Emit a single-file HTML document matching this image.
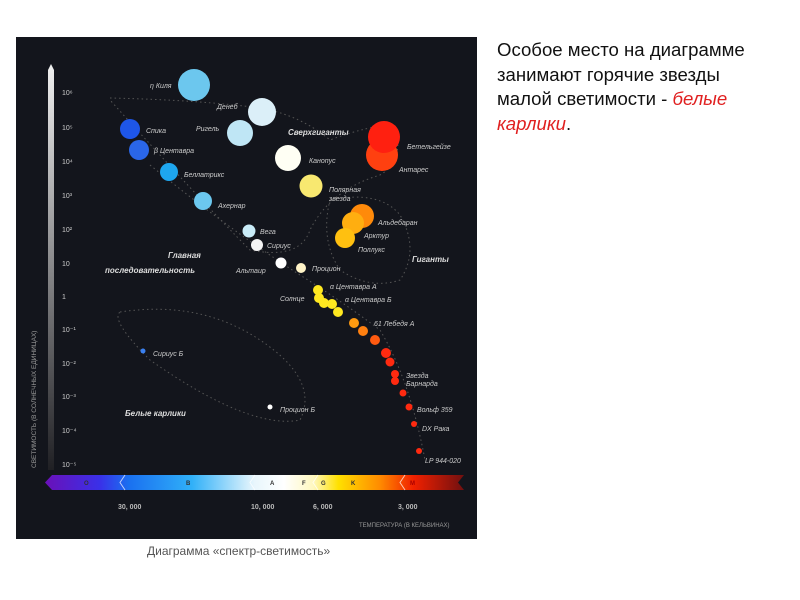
<!DOCTYPE html>
<html><head><meta charset="utf-8"><style>
body{margin:0;width:800px;height:600px;background:#fff;position:relative;overflow:hidden;font-family:"Liberation Sans",sans-serif}
.t{position:absolute;left:497px;top:38px;font-size:18.6px;line-height:24.5px;color:#111;width:270px}
.cap{position:absolute;left:147px;top:544px;font-size:12px;color:#555}
</style></head><body>
<svg width="800" height="600" style="position:absolute;left:0;top:0" font-family="Liberation Sans, sans-serif">
<defs>
<linearGradient id="sp" x1="0" x2="1">
<stop offset="0" stop-color="#6a10b8"/><stop offset="0.13" stop-color="#3a30e8"/><stop offset="0.2" stop-color="#1a70f0"/><stop offset="0.35" stop-color="#30b0f8"/><stop offset="0.5" stop-color="#e8f6fc"/><stop offset="0.57" stop-color="#ffffff"/><stop offset="0.64" stop-color="#fff8c0"/><stop offset="0.7" stop-color="#ffe000"/><stop offset="0.8" stop-color="#ff8a00"/><stop offset="0.88" stop-color="#f02000"/><stop offset="1" stop-color="#701010"/>
</linearGradient>
<linearGradient id="ax" x1="0" y1="0" x2="0" y2="1"><stop offset="0" stop-color="#f0f0f0"/><stop offset="1" stop-color="#202024"/></linearGradient>
</defs>
<rect x="16" y="37" width="461" height="502" fill="#13151c"/>
<path d="M48 70 L51 64 L54 70 L54 470 L48 470 Z" fill="url(#ax)"/>
<g fill="#ccc" font-size="7">
<text x="62" y="95">10⁶</text><text x="62" y="130">10⁵</text><text x="62" y="164">10⁴</text><text x="62" y="198">10³</text><text x="62" y="232">10²</text><text x="62" y="266">10</text><text x="62" y="299">1</text><text x="62" y="332">10⁻¹</text><text x="62" y="366">10⁻²</text><text x="62" y="399">10⁻³</text><text x="62" y="433">10⁻⁴</text><text x="62" y="467">10⁻⁵</text>
</g>
<text transform="translate(36,468) rotate(-90)" fill="#999" font-size="6.5">СВЕТИМОСТЬ (В СОЛНЕЧНЫХ ЕДИНИЦАХ)</text>
<g fill="none" stroke="#555" stroke-dasharray="1.5,3">
<path d="M110 98 Q200 100 260 108 Q300 115 330 140 Q370 125 395 125 Q405 160 380 175 Q330 190 310 230 Q300 260 250 250 Q200 200 110 100"/>
<path d="M330 200 Q380 190 400 215 Q420 250 400 280 Q370 290 340 270 Q320 240 330 200"/>
<path d="M150 165 Q230 230 300 275 Q340 300 380 330 Q410 380 425 460"/>
<path d="M120 312 Q200 300 260 340 Q320 380 300 420 Q250 430 150 360 Q110 320 120 312"/>
</g>
<g>
<circle cx="194" cy="85" r="16" fill="#6cc7ee"/>
<circle cx="262" cy="112" r="14" fill="#dbeff8"/>
<circle cx="240" cy="133" r="13" fill="#bfe6f5"/>
<circle cx="130" cy="129" r="10" fill="#1e56e8"/>
<circle cx="139" cy="150" r="10" fill="#2a66e8"/>
<circle cx="169" cy="172" r="9" fill="#1ea6ee"/>
<circle cx="203" cy="201" r="9" fill="#6cc8ef"/>
<circle cx="249" cy="231" r="6.5" fill="#c9ecf8"/>
<circle cx="257" cy="245" r="6" fill="#f4f4f4"/>
<circle cx="281" cy="263" r="5.5" fill="#fff"/>
<circle cx="301" cy="268" r="5" fill="#fff4c8"/>
<circle cx="288" cy="158" r="13" fill="#fffff4"/>
<circle cx="311" cy="186" r="11.5" fill="#f8e870"/>
<circle cx="382" cy="155" r="16" fill="#ff4010"/>
<circle cx="384" cy="137" r="16" fill="#ff2010"/>
<circle cx="362" cy="216" r="12" fill="#ff8a0a"/>
<circle cx="353" cy="223" r="11" fill="#ffae10"/>
<circle cx="345" cy="238" r="10" fill="#ffc010"/>
<g fill="#ffe820"><circle cx="318" cy="290" r="5"/><circle cx="319" cy="298" r="5"/><circle cx="324" cy="303" r="5"/><circle cx="332" cy="304" r="5"/><circle cx="338" cy="312" r="5"/></g>
<circle cx="354" cy="323" r="5" fill="#ff9a10"/><circle cx="363" cy="331" r="5" fill="#ff8010"/>
<circle cx="375" cy="340" r="5" fill="#ff5a10"/>
<g fill="#ff2a10"><circle cx="386" cy="353" r="5"/><circle cx="390" cy="362" r="4.5"/><circle cx="395" cy="374" r="4"/><circle cx="395" cy="381" r="4"/><circle cx="403" cy="393" r="3.5"/><circle cx="409" cy="407" r="3.5"/><circle cx="414" cy="424" r="3"/><circle cx="419" cy="451" r="3"/></g>
<circle cx="143" cy="351" r="2.5" fill="#3a80f0"/>
<circle cx="270" cy="407" r="2.5" fill="#fff"/>
</g>
<g fill="#ccc" font-size="7" font-style="italic">
<text x="150" y="88">η Киля</text><text x="217" y="109">Денеб</text><text x="196" y="131">Ригель</text>
<text x="146" y="133">Спика</text><text x="154" y="153">β Центавра</text><text x="184" y="177">Беллатрикс</text>
<text x="218" y="208">Ахернар</text><text x="260" y="234">Вега</text><text x="267" y="248">Сириус</text>
<text x="236" y="273">Альтаир</text><text x="312" y="271">Процион</text>
<text x="309" y="163">Канопус</text><text x="329" y="192">Полярная</text><text x="329" y="201">звезда</text>
<text x="407" y="149">Бетельгейзе</text><text x="399" y="172">Антарес</text>
<text x="378" y="225">Альдебаран</text><text x="364" y="238">Арктур</text><text x="358" y="252">Поллукс</text>
<text x="330" y="289">α Центавра А</text><text x="345" y="302">α Центавра Б</text><text x="280" y="301">Солнце</text>
<text x="374" y="326">61 Лебедя А</text><text x="406" y="378">Звезда</text><text x="406" y="386">Барнарда</text>
<text x="417" y="412">Вольф 359</text><text x="422" y="431">DX Рака</text><text x="425" y="463">LP 944-020</text>
<text x="153" y="356">Сириус Б</text><text x="280" y="412">Процион Б</text>
</g>
<g fill="#ddd" font-size="8" font-weight="bold" font-style="italic">
<text x="288" y="135">Сверхгиганты</text><text x="412" y="262">Гиганты</text>
<text x="168" y="258">Главная</text><text x="105" y="273">последовательность</text>
<text x="125" y="416">Белые карлики</text>
</g>
<path d="M52 475 L464 475 L458 482.5 L464 490 L52 490 L45 482.5 Z" fill="url(#sp)"/>
<g fill="none" stroke="#fff" stroke-width="1" opacity="0.7"><path d="M125 475 L120 482.5 L125 490"/><path d="M255 475 L250 482.5 L255 490"/><path d="M318 475 L313 482.5 L318 490"/><path d="M405 475 L400 482.5 L405 490"/></g>
<g font-size="6" font-weight="bold" fill="#333"><text x="84" y="485">O</text><text x="186" y="485">B</text><text x="270" y="485">A</text><text x="302" y="485">F</text><text x="321" y="485">G</text><text x="351" y="485">K</text><text x="410" y="485" fill="#a00">M</text></g>
<g fill="#bbb" font-size="7" font-weight="bold"><text x="118" y="509">30, 000</text><text x="251" y="509">10, 000</text><text x="313" y="509">6, 000</text><text x="398" y="509">3, 000</text></g>
<text x="359" y="527" fill="#999" font-size="6">ТЕМПЕРАТУРА (В КЕЛЬВИНАХ)</text>
</svg>
<div class="t">Особое место на диаграмме занимают горячие звезды малой светимости - <i style="color:#e02020">белые карлики</i>.</div>
<div class="cap">Диаграмма «спектр-светимость»</div>
</body></html>
